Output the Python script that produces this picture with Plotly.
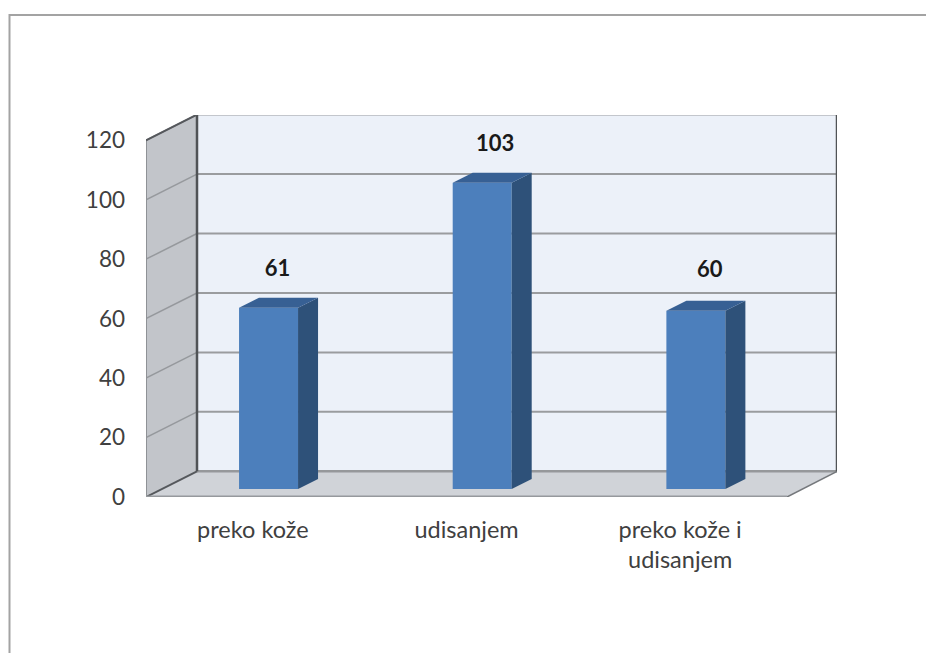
import plotly.graph_objects as go

categories = ["preko kože", "udisanjem", "preko kože i<br>udisanjem"]
values = [61, 103, 60]
y_ticks = [0, 20, 40, 60, 80, 100, 120]

W, H = 926, 653
L, R, T, B = 146, 837, 114.7, 497
PX_X = 213.67
PX_Y = 2.975
X0 = -0.5
X_FRONT_END = 2.5
X_END = X0 + (R - L) / PX_X
Y_END = (B - T) / PX_Y
DX = 51 / PX_X
DY = 25.7 / PX_Y
BAR_DX = 15.7 / PX_X
BAR_BASE = 8 / PX_Y
BAR_W = 59 / PX_X
SIDE_DX = 20 / PX_X
SIDE_DY = 10 / PX_Y


def poly(pts):
    return "M " + " L ".join(f"{x},{y}" for x, y in pts) + " Z"


def line(pts, color, width):
    d = "M " + " L ".join(f"{x},{y}" for x, y in pts)
    return dict(type="path", xref="x", yref="y", path=d, layer="below",
                line=dict(color=color, width=width))


def fill(pts, color):
    return dict(type="path", xref="x", yref="y", path=poly(pts), layer="below",
                fillcolor=color, line=dict(width=0))


shapes = [
    fill([(X0 + DX, DY), (X_END, DY), (X_END, DY + 120), (X0 + DX, DY + 120)], "#ecf1f9"),
    fill([(X0, 0), (X0 + DX, DY), (X0 + DX, DY + 120), (X0, 120)], "#c2c5ca"),
    fill([(X0, 0), (X_FRONT_END, 0), (X_END, DY), (X0 + DX, DY)], "#d0d3d8"),
]
for t in y_ticks[1:]:
    shapes.append(line([(X0, t), (X0 + DX, t + DY)], "#96999d", 1.5))
    shapes.append(line([(X0 + DX, t + DY), (X_END, t + DY)], "#9a9c9f", 2))
shapes += [
    line([(X0 + DX, DY), (X_END, DY)], "#96989b", 2.5),
    line([(X0, 0), (X0 + DX, DY)], "#55585c", 2),
    line([(X_FRONT_END, 0), (X_END, DY)], "#75787c", 1.5),
    line([(X0, 0), (X0, 120)], "#8f9296", 2),
    line([(X0, 0), (X_FRONT_END, 0)], "#96999d", 3),
    line([(X0 + DX, DY), (X0 + DX, DY + 120)], "#505356", 2.5),
    line([(X_END, DY), (X_END, DY + 120)], "#505356", 2.5),
    line([(X0, 120), (X0 + DX, 120 + DY)], "#55585c", 2),
]
# outer picture frame
shapes.append(dict(type="path", xref="paper", yref="paper",
                   path=f"M {(9.5 - L) / (R - L)},{(B - H) / (B - T)} "
                        f"L {(9.5 - L) / (R - L)},{(B - 14.5) / (B - T)} "
                        f"L {(W - L) / (R - L)},{(B - 14.5) / (B - T)}",
                   line=dict(color="#a3a3a3", width=2)))

x_pos = list(range(len(values)))
fig = go.Figure()
fig.add_trace(go.Bar(x=[i + BAR_DX for i in x_pos], y=values, base=BAR_BASE, width=BAR_W,
                     marker=dict(color="#4c7fbc", line=dict(width=0)), showlegend=False,
                     hoverinfo="skip"))
for i, v in zip(x_pos, values):
    xl = i + BAR_DX - BAR_W / 2
    xr = i + BAR_DX + BAR_W / 2
    bot = BAR_BASE
    top = BAR_BASE + v
    fig.add_trace(go.Scatter(x=[xr, xr + SIDE_DX, xr + SIDE_DX, xr, xr],
                             y=[bot, bot + SIDE_DY, top + SIDE_DY, top, bot],
                             mode="lines", fill="toself", fillcolor="#2e5179",
                             line=dict(width=0), showlegend=False, hoverinfo="skip"))
    fig.add_trace(go.Scatter(x=[xl, xl + SIDE_DX, xr + SIDE_DX, xr, xl],
                             y=[top, top + SIDE_DY, top + SIDE_DY, top, top],
                             mode="lines", fill="toself", fillcolor="#376094",
                             line=dict(width=0), showlegend=False, hoverinfo="skip"))

label_dx = [9 / PX_X, 13 / PX_X, 14 / PX_X]
label_dy = [37.5 / PX_Y, 37.5 / PX_Y, 39 / PX_Y]
fig.add_trace(go.Scatter(x=[i + BAR_DX + d for i, d in zip(x_pos, label_dx)],
                         y=[v + BAR_BASE + d for v, d in zip(values, label_dy)],
                         mode="text", text=[str(v) for v in values], cliponaxis=False,
                         textfont=dict(family="Lato", size=22, color="#1a1a1a", weight="bold"),
                         showlegend=False, hoverinfo="skip"))

fig.update_layout(
    width=W, height=H, autosize=False,
    margin=dict(l=L, r=W - R, t=T, b=H - B, pad=0),
    paper_bgcolor="white", plot_bgcolor="rgba(0,0,0,0)",
    shapes=shapes, showlegend=False,
    font=dict(family="Lato", color="#404040"),
    xaxis=dict(range=[X0, X_END], tickmode="array", tickvals=x_pos, ticktext=categories,
               showgrid=False, zeroline=False, showline=False, ticks="",
               tickfont=dict(size=23.5), ticklabelstandoff=16),
    yaxis=dict(range=[0, Y_END], tickmode="array", tickvals=y_ticks,
               showgrid=False, zeroline=False, showline=False, ticks="",
               tickfont=dict(size=22.5), ticklabelstandoff=20),
)
fig.write_html("out.html", post_script="document.body.style.margin='0';",
               config={"displayModeBar": False})
